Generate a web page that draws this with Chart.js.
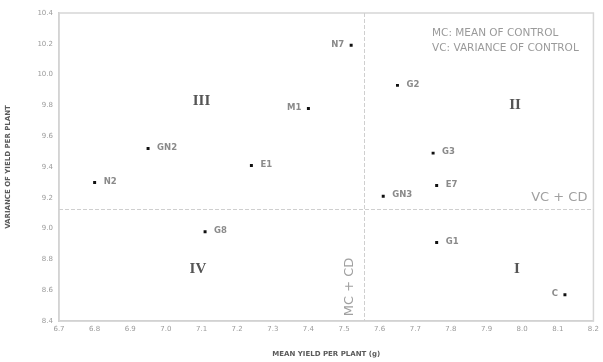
<!DOCTYPE html>
<html>
<head>
<meta charset="utf-8">
<script src="https://cdn.jsdelivr.net/npm/chart.js@4"></script>
<style>
  html, body { margin: 0; padding: 0; background: #fff; }
  #wrap { width: 603px; height: 362px; }
</style>
</head>
<body>
<div id="wrap"><canvas id="chart"></canvas></div>
<script>
// Genotypes: mean yield (g) and variance of yield per plant
const genotypes = ['N7', 'M1', 'G2', 'G3', 'GN2', 'E1', 'N2', 'E7', 'GN3', 'G8', 'G1', 'C']
const meanYield = [7.52, 7.40, 7.65, 7.75, 6.95, 7.24, 6.80, 7.76, 7.61, 7.11, 7.76, 8.12]
const varianceYield = [10.19, 9.78, 9.93, 9.49, 9.52, 9.41, 9.30, 9.28, 9.21, 8.98, 8.91, 8.57]
const labelOnLeft = ['N7', 'M1', 'C']

// Control mean (MC) and control variance (VC)
const meanControl = 7.557
const varianceControl = 9.13

const quadrants = ['III', 'II', 'IV', 'I']
const quadrantX = [7.10, 7.98, 7.09, 7.985]
const quadrantY = [9.83, 9.80, 8.74, 8.74]

const labelColor = '#8a8a8a'
const lineColor = '#cfcfcf'

// Frame, dashed control lines and text annotations
const annotations = {
  id: 'annotations',
  beforeDatasetsDraw(chart) {
    const { ctx, chartArea: a, scales: { x, y } } = chart
    ctx.save()
    ctx.strokeStyle = '#d6d6d6'
    ctx.lineWidth = 1.5
    ctx.strokeRect(a.left, a.top, a.right - a.left, a.bottom - a.top)

    ctx.strokeStyle = lineColor
    ctx.lineWidth = 1
    ctx.setLineDash([4, 2])
    const mx = Math.round(x.getPixelForValue(meanControl)) + 0.5
    ctx.beginPath()
    ctx.moveTo(mx, a.top)
    ctx.lineTo(mx, a.bottom)
    ctx.stroke()
    const vy = Math.round(y.getPixelForValue(varianceControl)) + 0.5
    ctx.beginPath()
    ctx.moveTo(a.left, vy)
    ctx.lineTo(a.right, vy)
    ctx.stroke()
    ctx.restore()
  },
  afterDatasetsDraw(chart) {
    const { ctx, chartArea: a, scales: { x, y } } = chart
    const meta = chart.getDatasetMeta(0)
    ctx.save()
    ctx.textBaseline = 'middle'
    ctx.font = 'bold 8.5px "DejaVu Sans", sans-serif'
    ctx.fillStyle = labelColor
    meta.data.forEach((pt, i) => {
      const name = genotypes[i]
      if (labelOnLeft.includes(name)) {
        ctx.textAlign = 'right'
        ctx.fillText(name, pt.x - 7, pt.y - 1)
      } else {
        ctx.textAlign = 'left'
        ctx.fillText(name, pt.x + 9, pt.y - 1)
      }
    })

    ctx.font = 'bold 15px "Liberation Serif", serif'
    ctx.fillStyle = '#555'
    ctx.textAlign = 'center'
    quadrants.forEach((q, i) => {
      ctx.fillText(q, x.getPixelForValue(quadrantX[i]), y.getPixelForValue(quadrantY[i]))
    })

    ctx.font = '10.5px "DejaVu Sans", sans-serif'
    ctx.fillStyle = '#9a9a9a'
    ctx.textAlign = 'left'
    ctx.fillText('MC: MEAN OF CONTROL', 432, 33)
    ctx.fillText('VC: VARIANCE OF CONTROL', 432, 48)

    ctx.font = '13px "DejaVu Sans", sans-serif'
    ctx.fillStyle = '#a0a0a0'
    ctx.textAlign = 'right'
    const vy = y.getPixelForValue(varianceControl)
    ctx.fillText('VC + CD', a.right - 6, vy - 11)

    const mx = x.getPixelForValue(meanControl)
    ctx.translate(mx - 15, a.bottom - 34)
    ctx.rotate(-Math.PI / 2)
    ctx.textAlign = 'center'
    ctx.fillText('MC + CD', 0, 0)
    ctx.restore()
  }
}

new Chart(document.getElementById('chart'), {
  type: 'scatter',
  data: {
    datasets: [{
      data: meanYield.map((v, i) => ({ x: v, y: varianceYield[i] })),
      backgroundColor: '#111',
      borderColor: '#111',
      pointStyle: 'rect',
      pointRadius: 2.1,
      borderWidth: 0
    }]
  },
  options: {
    responsive: true,
    maintainAspectRatio: false,
    animation: false,
    layout: { padding: { top: 13, right: 6, left: 0, bottom: 0 } },
    plugins: {
      legend: { display: false },
      tooltip: { enabled: false }
    },
    scales: {
      x: {
        min: 6.7,
        max: 8.2,
        afterFit: s => { s.height = 41 },
        ticks: {
          stepSize: 0.1,
          color: '#9a9a9a',
          font: { size: 7, family: 'DejaVu Sans' },
          padding: 4,
          maxRotation: 0,
          callback: v => Number(v).toFixed(1)
        },
        grid: { display: false, drawTicks: false },
        border: { color: '#c8c8c8', width: 1.5 },
        title: {
          display: true,
          text: 'MEAN YIELD PER PLANT (g)',
          color: '#5a5a5a',
          font: { size: 7, weight: 'bold', family: 'DejaVu Sans' },
          padding: { top: 10 }
        }
      },
      y: {
        min: 8.4,
        max: 10.4,
        afterFit: s => { s.width = 59 },
        ticks: {
          stepSize: 0.2,
          color: '#9a9a9a',
          font: { size: 7, family: 'DejaVu Sans' },
          padding: 6,
          callback: v => Number(v).toFixed(1)
        },
        grid: { display: false, drawTicks: false },
        border: { color: '#c8c8c8', width: 1.5 },
        title: {
          display: true,
          text: 'VARIANCE OF YIELD PER PLANT',
          color: '#5a5a5a',
          font: { size: 7, weight: 'bold', family: 'DejaVu Sans' },
          padding: { bottom: 4 }
        }
      }
    }
  },
  plugins: [annotations]
})
</script>
</body>
</html>
